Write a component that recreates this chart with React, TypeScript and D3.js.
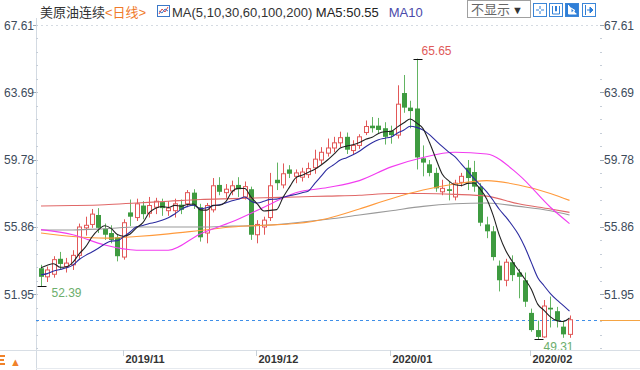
import { useEffect, useRef } from "react";
import * as d3 from "d3";

// trading days shown on the chart
const dates = [
  "2019-10-15", "2019-10-16", "2019-10-17", "2019-10-18", "2019-10-21", "2019-10-22", "2019-10-23",
  "2019-10-24", "2019-10-25", "2019-10-28", "2019-10-29", "2019-10-30", "2019-10-31",
  "2019-11-01", "2019-11-04", "2019-11-05", "2019-11-06", "2019-11-07", "2019-11-08", "2019-11-11",
  "2019-11-12", "2019-11-13", "2019-11-14", "2019-11-15", "2019-11-18", "2019-11-19", "2019-11-20",
  "2019-11-21", "2019-11-22", "2019-11-25", "2019-11-26", "2019-11-27", "2019-11-28", "2019-11-29",
  "2019-12-02", "2019-12-03", "2019-12-04", "2019-12-05", "2019-12-06", "2019-12-09", "2019-12-10",
  "2019-12-11", "2019-12-12", "2019-12-13", "2019-12-16", "2019-12-17", "2019-12-18", "2019-12-19",
  "2019-12-20", "2019-12-23", "2019-12-24", "2019-12-26", "2019-12-27", "2019-12-30", "2019-12-31",
  "2020-01-02", "2020-01-03", "2020-01-06", "2020-01-07", "2020-01-08", "2020-01-09", "2020-01-10",
  "2020-01-13", "2020-01-14", "2020-01-15", "2020-01-16", "2020-01-17", "2020-01-20", "2020-01-21",
  "2020-01-22", "2020-01-23", "2020-01-24", "2020-01-27", "2020-01-28", "2020-01-29", "2020-01-30",
  "2020-01-31", "2020-02-03", "2020-02-04", "2020-02-05", "2020-02-06", "2020-02-07", "2020-02-10",
  "2020-02-11",
];

const open = [
  53.45, 52.95, 53.1, 54.0, 53.55, 53.65, 54.2, 55.8, 56.0, 56.55, 55.75, 55.5, 55.25,
  54.1, 56.7, 56.4, 57.1, 56.65, 57.0, 57.3, 56.8, 56.8, 57.15, 57.2, 57.85, 57.0, 55.5,
  56.85, 58.3, 57.85, 57.95, 58.3, 57.6, 58.05,
  55.4, 55.85, 56.4, 58.6, 58.3, 59.2, 58.8, 58.75, 58.9, 59.3, 59.75, 60.15, 60.45, 60.75,
  61.1, 60.3, 60.6, 61.35, 61.75, 61.75, 61.6,
  61.45, 61.2, 63.65, 62.8, 62.75, 59.85, 59.5, 59.0, 57.9, 58.05, 57.6, 58.45, 59.3, 59.05,
  58.2, 56.0, 55.6, 53.6, 52.75, 53.8, 53.2, 52.75,
  50.85, 49.85, 49.45, 51.15, 50.95, 50.05, 49.6,
];
const high = [
  53.65, 53.55, 54.15, 54.4, 54.05, 54.5, 56.05, 56.45, 56.9, 56.95, 56.05, 55.95, 55.4,
  56.3, 57.45, 57.5, 57.35, 57.6, 57.55, 57.5, 57.35, 57.5, 57.45, 58.0, 58.05, 57.2, 57.25,
  58.7, 58.75, 58.35, 58.55, 58.75, 58.5, 58.2,
  56.25, 56.45, 59.0, 59.6, 59.55, 59.45, 59.2, 59.3, 59.6, 60.35, 60.5, 61.0, 61.1, 61.4,
  61.35, 60.9, 61.25, 62.05, 62.25, 62.2, 61.95,
  61.75, 64.1, 64.7, 63.2, 65.65, 60.6, 59.75, 59.3, 58.6, 58.5, 58.6, 59.0, 59.75, 59.7,
  58.4, 56.45, 55.9, 53.9, 54.0, 54.2, 53.4, 53.2,
  51.1, 50.4, 51.6, 51.8, 51.2, 50.4, 50.7,
];
const low = [
  52.39, 52.65, 52.9, 53.4, 53.2, 53.35, 53.95, 55.35, 55.8, 55.5, 55.1, 54.9, 53.85,
  53.95, 55.9, 56.2, 56.3, 56.4, 56.6, 56.5, 56.5, 56.4, 56.6, 57.0, 56.9, 55.0, 54.9,
  56.7, 57.7, 57.55, 57.7, 57.6, 57.45, 55.1,
  54.9, 55.4, 56.2, 58.0, 58.1, 58.7, 58.4, 58.5, 58.7, 58.95, 59.5, 59.95, 60.2, 60.5,
  60.1, 60.1, 60.4, 61.2, 61.35, 61.3, 60.65,
  60.7, 61.0, 62.5, 61.6, 59.2, 58.8, 58.8, 57.9, 57.7, 57.4, 57.4, 58.2, 58.0, 57.9,
  55.9, 55.2, 53.9, 52.1, 52.4, 52.7, 51.7, 51.2,
  49.75, 49.31, 49.4, 50.0, 50.0, 49.4, 49.4,
];
const close = [
  52.95, 53.35, 53.95, 53.7, 53.75, 54.2, 55.85, 55.95, 56.6, 55.8, 55.4, 55.1, 54.15,
  56.1, 56.45, 57.2, 56.6, 57.1, 57.35, 56.95, 56.95, 57.2, 56.85, 57.85, 57.1, 55.25, 57.1,
  58.25, 57.9, 58.05, 58.25, 58.05, 58.2, 55.4,
  56.0, 56.25, 58.25, 58.4, 58.95, 58.95, 59.0, 59.05, 59.25, 59.8, 60.2, 60.45, 60.75, 61.05,
  60.35, 60.6, 61.1, 61.7, 61.6, 61.5, 61.1,
  61.2, 63.0, 62.8, 62.6, 59.9, 59.6, 59.0, 58.1, 58.1, 57.95, 58.4, 58.8, 58.7, 58.2,
  56.1, 55.6, 54.1, 52.75, 53.8, 53.05, 52.95, 51.5,
  49.85, 49.45, 51.25, 51.05, 50.4, 49.6, 50.45,
];
// closes before the first visible day, needed for MA5 / MA10
const priorCloses = [53.62, 52.64, 52.45, 52.81, 52.75, 52.63, 52.59, 53.55, 54.7, 53.59];

// longer averages every 5 days
const maIndex = [0, 5, 10, 15, 20, 25, 30, 35, 40, 45, 50, 55, 60, 65, 70, 75, 80, 83];
const ma30 = [55.7, 55.4, 54.8, 54.5, 54.5, 55.45, 56.15, 57.0, 57.85, 58.15, 58.55, 59.35, 59.9, 60.2, 60.1, 58.9, 57.0, 56.05];
const ma60 = [55.5, 55.3, 55.2, 55.3, 55.45, 55.65, 55.85, 55.95, 56.05, 56.35, 56.9, 57.5, 58.0, 58.35, 58.55, 58.3, 57.8, 57.4];
const ma100 = [55.68, 55.68, 55.75, 55.85, 55.85, 55.85, 55.9, 55.95, 56.1, 56.3, 56.55, 56.8, 57.05, 57.2, 57.25, 57.05, 56.8, 56.55];
const ma200 = [57.07, 57.1, 57.15, 57.25, 57.35, 57.45, 57.5, 57.55, 57.6, 57.65, 57.7, 57.8, 57.8, 57.75, 57.65, 57.2, 56.9, 56.7];

const priceTicks = [67.61, 63.69, 59.78, 55.86, 51.95];

const FONT = "'Liberation Sans', Arial, 'Noto Sans CJK SC', sans-serif";
const UP = "#e25858";
const DOWN = "#3e9b40";
const DOWN_WICK = "#62b462";

function movingAverage(n: number) {
  const all = priorCloses.concat(close);
  const off = priorCloses.length;
  return close.map((_, i) => d3.mean(all.slice(i + off - n + 1, i + off + 1)) as number);
}

export default function App() {
  const ref = useRef<SVGSVGElement>(null);

  useEffect(() => {
    const svg = d3.select(ref.current);
    svg.selectAll("*").remove();

    const width = 640;
    const height = 370;
    const left = 36;
    const right = 600;
    const axisY = 350;

    const x = d3.scaleLinear().domain([0, close.length - 1]).range([41, 569.5]);
    const y = d3.scaleLinear().domain([51.95, 67.61]).range([294, 25]);
    const px = (i: number) => Math.round(x(i)) + 0.5;

    svg.append("rect").attr("width", width).attr("height", height).attr("fill", "#fff");

    // top dashed rule
    svg.append("line")
      .attr("x1", left).attr("x2", right).attr("y1", 25.5).attr("y2", 25.5)
      .attr("stroke", "#d5dbe2").attr("stroke-dasharray", "2,3");

    // left axis
    svg.append("line")
      .attr("x1", left + 0.5).attr("x2", left + 0.5).attr("y1", 18).attr("y2", height)
      .attr("stroke", "#d3dae2");

    const step = (y(priceTicks[1]) - y(priceTicks[0])) / 5;
    const minor: number[] = [];
    for (let v = y(priceTicks[0]); v < axisY; v += step) minor.push(v);
    svg.append("g").selectAll("line.lm").data(minor).join("line")
      .attr("x1", left).attr("x2", left + 2)
      .attr("y1", (d) => Math.round(d) + 0.5).attr("y2", (d) => Math.round(d) + 0.5)
      .attr("stroke", "#c6ced8");
    svg.append("g").selectAll("line.rm").data(minor).join("line")
      .attr("x1", right).attr("x2", right + 2)
      .attr("y1", (d) => Math.round(d) + 0.5).attr("y2", (d) => Math.round(d) + 0.5)
      .attr("stroke", "#c6ced8");

    svg.append("g").selectAll("line").data(priceTicks).join("line")
      .attr("x1", left - 3).attr("x2", left)
      .attr("y1", (d) => Math.round(y(d)) + 0.5).attr("y2", (d) => Math.round(y(d)) + 0.5)
      .attr("stroke", "#9aa6b2");
    svg.append("g").selectAll("line").data(priceTicks).join("line")
      .attr("x1", right).attr("x2", right + 4)
      .attr("y1", (d) => Math.round(y(d)) + 0.5).attr("y2", (d) => Math.round(y(d)) + 0.5)
      .attr("stroke", "#9aa6b2");

    const axisText = svg.append("g").attr("font-family", FONT).attr("font-size", 12).attr("fill", "#3d4b5b");
    axisText.selectAll("text.l").data(priceTicks).join("text")
      .attr("x", left - 2).attr("y", (d) => y(d) + 4.5)
      .attr("text-anchor", "end").text((d) => d.toFixed(2));
    axisText.selectAll("text.r").data(priceTicks).join("text")
      .attr("x", right + 4).attr("y", (d) => y(d) + 4.5)
      .text((d) => d.toFixed(2));

    // last price line
    const last = close[close.length - 1];
    svg.append("line")
      .attr("x1", left).attr("x2", right).attr("y1", Math.round(y(last)) + 0.5).attr("y2", Math.round(y(last)) + 0.5)
      .attr("stroke", "#3f8fe8").attr("stroke-dasharray", "3,3");
    svg.append("line")
      .attr("x1", right).attr("x2", width).attr("y1", Math.round(y(last)) + 0.5).attr("y2", Math.round(y(last)) + 0.5)
      .attr("stroke", "#f5a443");

    // candles
    const idx = d3.range(close.length);
    const g = svg.append("g");
    g.selectAll("line.wick").data(idx).join("line")
      .attr("x1", px).attr("x2", px)
      .attr("y1", (i) => y(high[i])).attr("y2", (i) => y(low[i]))
      .attr("stroke", (i) => (close[i] >= open[i] ? UP : DOWN_WICK));
    g.selectAll("rect.body").data(idx).join("rect")
      .attr("x", (i) => (close[i] >= open[i] ? Math.round(x(i)) - 1.5 : Math.round(x(i)) - 2))
      .attr("width", (i) => (close[i] >= open[i] ? 4 : 5))
      .attr("y", (i) => y(Math.max(open[i], close[i])))
      .attr("height", (i) => Math.max(1, Math.abs(y(open[i]) - y(close[i]))))
      .attr("fill", (i) => (close[i] >= open[i] ? "#fff" : DOWN))
      .attr("stroke", (i) => (close[i] >= open[i] ? UP : "none"));

    // moving averages
    const ma5 = movingAverage(5);
    const ma10 = movingAverage(10);
    const line = d3.line<number>().x((_, k) => x(k)).y((d) => y(d)).curve(d3.curveMonotoneX);
    const sparse = d3.line<number>().x((_, k) => x(maIndex[k])).y((d) => y(d)).curve(d3.curveMonotoneX);
    const mas: [number[], string, boolean][] = [
      [ma100, "#9a9a9a", true],
      [ma200, "#e06868", true],
      [ma60, "#ff9a3c", true],
      [ma30, "#f23cf0", true],
      [ma10, "#2c2ca0", false],
      [ma5, "#222222", false],
    ];
    mas.forEach(([vals, color, sp]) => {
      svg.append("path")
        .attr("d", (sp ? sparse : line)(vals))
        .attr("fill", "none").attr("stroke", color).attr("stroke-width", 1.1);
    });

    // high / low markers
    const hi = d3.maxIndex(high);
    const lo = d3.minIndex(low);
    const marks = [
      { i: hi, v: high[hi], dx: 4, dy: -5, color: "#e05a5a" },
      { i: 0, v: low[0], dx: 10, dy: 10, color: "#6cae6c" },
      { i: lo, v: low[lo], dx: 5, dy: 11, color: "#6cae6c" },
    ];
    marks.forEach((m) => {
      const mx = px(m.i);
      const my = Math.round(y(m.v)) + 0.5;
      svg.append("line").attr("x1", mx - 4).attr("x2", mx + 5).attr("y1", my).attr("y2", my).attr("stroke", "#111");
      svg.append("text")
        .attr("x", mx + m.dx).attr("y", my + m.dy)
        .attr("font-family", FONT).attr("font-size", 12).attr("fill", m.color)
        .text(m.v.toFixed(2));
    });

    // date axis
    svg.append("line").attr("x1", 0).attr("x2", width).attr("y1", axisY + 0.5).attr("y2", axisY + 0.5).attr("stroke", "#d8dee5");
    svg.append("line").attr("x1", left).attr("x2", width).attr("y1", 368.5).attr("y2", 368.5).attr("stroke", "#e6eaef");
    const monthStart = idx.filter((i) => i > 0 && dates[i].slice(5, 7) !== dates[i - 1].slice(5, 7));
    svg.append("g").selectAll("line").data(monthStart).join("line")
      .attr("x1", (i) => px(i) - 1).attr("x2", (i) => px(i) - 1)
      .attr("y1", axisY).attr("y2", axisY + 6).attr("stroke", "#c8d0d8");
    svg.append("g").selectAll("text").data(monthStart).join("text")
      .attr("x", (i) => px(i) + 1).attr("y", 363)
      .attr("font-family", FONT).attr("font-size", 11).attr("font-weight", "bold").attr("fill", "#333")
      .text((i) => dates[i].slice(0, 7).replace("-", "/"));

    // corner button (partly hidden glyph + arrow)
    svg.append("path").attr("d", "M0,356h5M0,360h4M0,364h5").attr("stroke", "#f0822a").attr("stroke-width", 2);
    svg.append("text").attr("x", 10).attr("y", 366).attr("font-family", FONT).attr("font-size", 11)
      .attr("fill", "#f0822a").text("▲");

    // header
    const head = svg.append("text").attr("x", 40).attr("y", 17).attr("font-family", FONT).attr("font-size", 13);
    head.append("tspan").attr("fill", "#333").text("美原油连续");
    head.append("tspan").attr("fill", "#f07a2a").text("<日线>");
    svg.append("rect").attr("x", 157.5).attr("y", 5.5).attr("width", 12).attr("height", 11).attr("fill", "#fff").attr("stroke", "#3b78c8");
    svg.append("polyline").attr("points", "159,14 162,9 165,12 168,7").attr("fill", "none").attr("stroke", "#e04848");
    svg.append("polyline").attr("points", "159,11 162,13 165,9 168,11").attr("fill", "none").attr("stroke", "#3b78c8");
    const ma = svg.append("text").attr("x", 172).attr("y", 17).attr("font-family", FONT).attr("font-size", 13);
    ma.append("tspan").attr("fill", "#333").text("MA(5,10,30,60,100,200) ");
    ma.append("tspan").attr("fill", "#222").text(`MA5:${ma5[ma5.length - 1].toFixed(2)}`);
    ma.append("tspan").attr("fill", "#4a4aaa").attr("dx", 10).text("MA10");

    svg.append("rect").attr("x", 467.5).attr("y", 0.5).attr("width", 63).attr("height", 17)
      .attr("fill", "#fff").attr("stroke", "#a0a0a0");
    svg.append("text").attr("x", 471).attr("y", 14).attr("font-family", FONT).attr("font-size", 13)
      .attr("fill", "#666").text("不显示");
    svg.append("text").attr("x", 512).attr("y", 14).attr("font-family", FONT).attr("font-size", 11)
      .attr("fill", "#333").text("▼");

    const icons = [533, 549, 565, 582];
    icons.forEach((ix, k) => {
      const filled = k === 2;
      svg.append("rect").attr("x", ix + 0.5).attr("y", 3.5).attr("width", 13).attr("height", 13)
        .attr("fill", filled ? "#2f7fd8" : "#fff").attr("stroke", "#3b86d8");
      const c = filled ? "#fff" : "#2f7fd8";
      if (k === 0) {
        svg.append("path").attr("d", `M${ix + 7},6v3M${ix + 7},11v3M${ix + 3},10h3M${ix + 8},10h3`).attr("stroke", c);
      } else if (k === 1) {
        svg.append("path").attr("d", `M${ix + 3.5},6v8h7v-8M${ix + 6.5},6v5h1v-5`).attr("stroke", c).attr("fill", "none");
      } else if (k === 2) {
        svg.append("path").attr("d", `M${ix + 3.5},5v9h8M${ix + 6},8l4,2.5l-4,2.5z`).attr("stroke", c).attr("fill", c);
      } else {
        svg.append("path").attr("d", `M${ix + 3.5},5v10M${ix + 5},10h4M${ix + 8},7l3,3l-3,3z`).attr("stroke", c).attr("fill", c);
      }
    });
  }, []);

  return (
    <svg
      ref={ref}
      width={640}
      height={370}
      style={{ position: "absolute", left: 0, top: 0, display: "block" }}
    />
  );
}
